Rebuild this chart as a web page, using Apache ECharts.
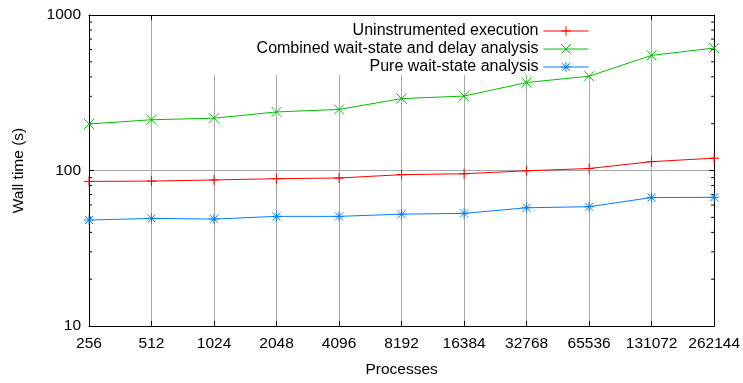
<!DOCTYPE html>
<html>
<head>
<meta charset="utf-8">
<script src="https://cdn.jsdelivr.net/npm/echarts@6/dist/echarts.min.js"></script>
<style>
html,body{margin:0;padding:0;background:#fff;}
#chart{width:743px;height:383px;}
</style>
</head>
<body>
<div id="chart"></div>
<script>
const categories = ['256','512','1024','2048','4096','8192','16384','32768','65536','131072','262144'];
const uninstrumented = [85.1, 85.5, 86.9, 88.6, 89.5, 94, 95.3, 99.6, 103, 114, 120];
const combined = [199, 212, 217, 238, 247, 290, 301, 368, 404, 550, 613];
const pureWait = [48, 49.2, 48.7, 50.7, 50.7, 52.4, 53, 57.6, 58.5, 67, 67.2];
const minorTicks = [20, 30, 40, 50, 60, 70, 80, 90, 200, 300, 400, 500, 600, 700, 800, 900];
const seriesNames = ['Uninstrumented execution', 'Combined wait-state and delay analysis', 'Pure wait-state analysis'];

const FONT = 'Liberation Sans';
const SYM_PLUS = 'path://M0,5L10,5M5,0L5,10';
const SYM_X = 'path://M0,0L10,10M0,10L10,0';
const SYM_STAR = 'path://M0,5L10,5M5,0L5,10M1,1L9,9M1,9L9,1';

function lineSeries(name, data, color, symbol) {
  return {
    name: name, type: 'line', data: data,
    xAxisIndex: 0, yAxisIndex: 0,
    symbol: symbol, symbolSize: 10, showAllSymbol: true,
    lineStyle: {color: color, width: 1},
    itemStyle: {color: color, borderColor: color, borderWidth: 1},
    emphasis: {disabled: true},
    z: 3
  };
}

const chart = echarts.init(document.getElementById('chart'), null, {renderer: 'canvas'});
const legendTops = [23, 41, 59];
chart.setOption({
  animation: false,
  backgroundColor: '#fff',
  textStyle: {fontFamily: FONT},
  grid: {left: 89, right: 27, top: 15, bottom: 54.5, containLabel: false},
  legend: seriesNames.map((n, i) => ({
    data: [n], orient: 'horizontal', align: 'right',
    right: 154, top: legendTops[i], padding: 0,
    itemWidth: 45, itemHeight: 12, selectedMode: false,
    lineStyle: {width: 1},
    itemStyle: {borderWidth: 1},
    textStyle: {fontFamily: FONT, fontSize: 16, color: '#000'}
  })),
  graphic: {elements: [{type: 'rect', z: 1, shape: {x: 200, y: 16, width: 395, height: 59}, style: {fill: '#fff'}, silent: true}]},
  xAxis: [{
    type: 'category', data: categories, boundaryGap: false, position: 'bottom',
    axisLine: {show: true, onZero: false, lineStyle: {color: '#000', width: 1}},
    axisTick: {show: true, inside: true, length: 5, alignWithLabel: true, lineStyle: {color: '#000'}},
    axisLabel: {show: true, color: '#000', fontSize: 15.5, fontFamily: FONT, margin: 10, interval: 0},
    splitLine: {show: true, interval: 0, lineStyle: {color: '#a8a8a8', width: 1}},
    name: 'Processes', nameLocation: 'middle', nameGap: 36,
    nameTextStyle: {color: '#000', fontSize: 15.5, fontFamily: FONT}
  }, {
    type: 'category', data: categories, boundaryGap: false, position: 'top',
    axisLine: {show: true, onZero: false, lineStyle: {color: '#000', width: 1}},
    axisTick: {show: true, inside: true, length: 5, alignWithLabel: true, lineStyle: {color: '#000'}},
    axisLabel: {show: false}, splitLine: {show: false}
  }],
  yAxis: [{
    type: 'log', logBase: 10, min: 10, max: 1000, position: 'left',
    axisLine: {show: true, onZero: false, lineStyle: {color: '#000', width: 1}},
    axisTick: {show: true, inside: true, length: 5, lineStyle: {color: '#000'}},
    axisLabel: {show: true, color: '#000', fontSize: 15.5, fontFamily: FONT, margin: 8,
      formatter: v => String(Math.round(v))},
    splitLine: {show: true, lineStyle: {color: '#a8a8a8', width: 1}},
    name: 'Wall time (s)', nameLocation: 'middle', nameGap: 62,
    nameTextStyle: {color: '#000', fontSize: 15.5, fontFamily: FONT}
  }, {
    type: 'log', logBase: 10, min: 10, max: 1000, position: 'right',
    axisLine: {show: true, onZero: false, lineStyle: {color: '#000', width: 1}},
    axisTick: {show: true, inside: true, length: 5, lineStyle: {color: '#000'}},
    axisLabel: {show: false}, splitLine: {show: false}
  }],
  series: [
    lineSeries(seriesNames[0], uninstrumented, '#ff0000', SYM_PLUS),
    lineSeries(seriesNames[1], combined, '#00c000', SYM_X),
    lineSeries(seriesNames[2], pureWait, '#0080ff', SYM_STAR),
    {
      type: 'custom', name: 'minorTicks', xAxisIndex: 0, yAxisIndex: 0, silent: true, z: 2,
      data: minorTicks.map(v => [0, v]),
      encode: {x: 0, y: 1},
      renderItem: function (params, api) {
        const v = api.value(1);
        const l = api.coord([0, v]);
        const r = api.coord([categories.length - 1, v]);
        const st = {stroke: '#000', lineWidth: 1};
        return {type: 'group', children: [
          {type: 'line', shape: {x1: l[0], y1: l[1], x2: l[0] + 3, y2: l[1]}, style: st},
          {type: 'line', shape: {x1: r[0] - 3, y1: r[1], x2: r[0], y2: r[1]}, style: st}
        ]};
      }
    }
  ]
});
</script>
</body>
</html>
